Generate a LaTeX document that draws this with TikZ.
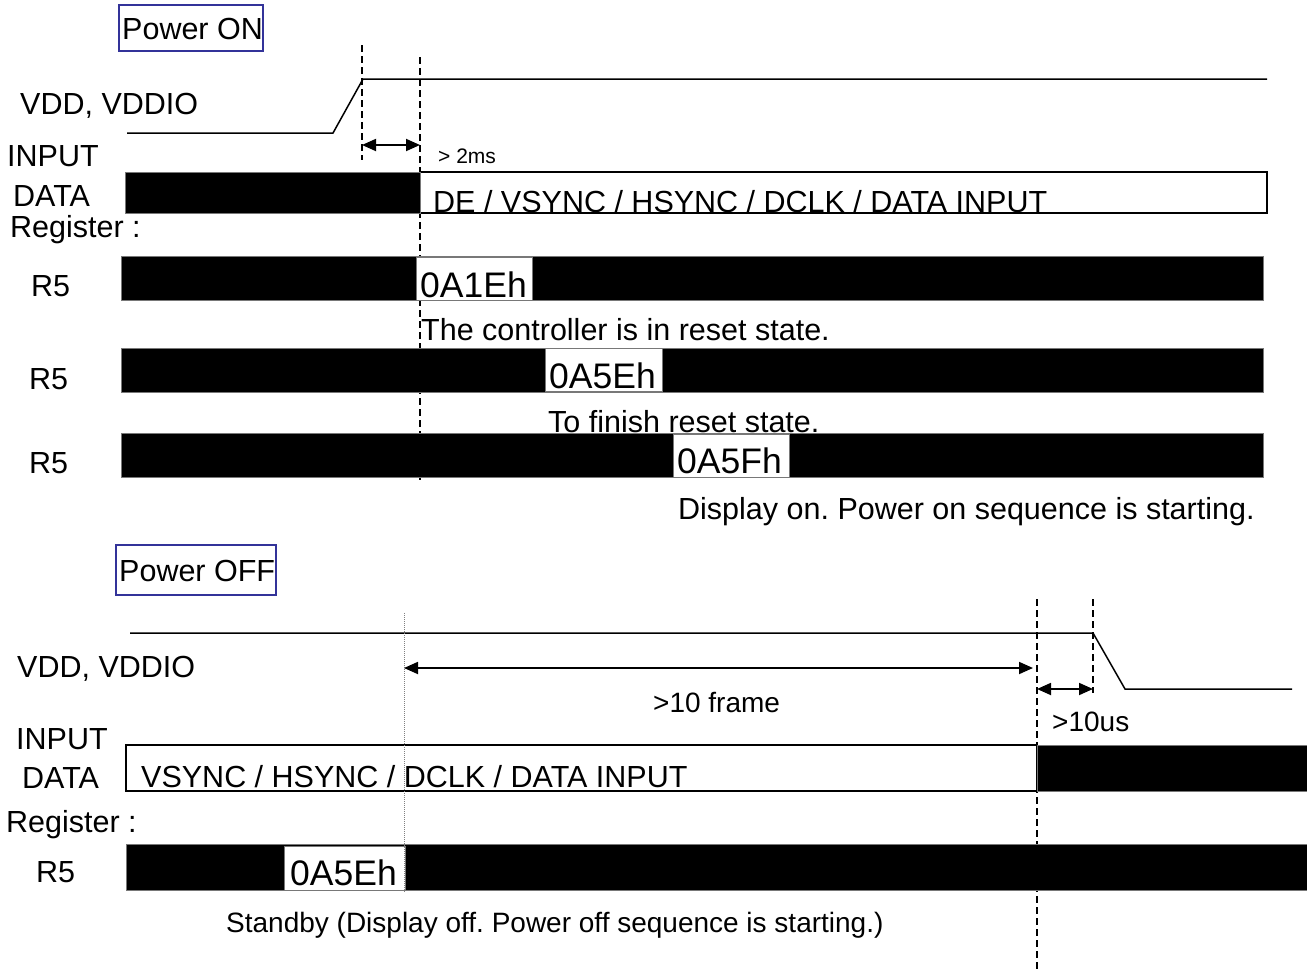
\documentclass[tikz,border=0pt]{standalone}
\usepackage{fontspec}
\setmainfont{Liberation Sans}
\usetikzlibrary{arrows.meta}
\definecolor{boxblue}{RGB}{51,51,153}
\definecolor{edgegray}{RGB}{120,120,120}
\begin{document}
\frenchspacing
\begin{tikzpicture}[x=1pt,y=-1pt,
  lbl/.style={anchor=base west, inner sep=0pt, font=\fontsize{30.5}{36}\selectfont},
  smalllbl/.style={anchor=base west, inner sep=0pt, font=\fontsize{28}{34}\selectfont},
  tinylbl/.style={anchor=base west, inner sep=0pt, font=\fontsize{21}{25}\selectfont},
  hexlbl/.style={anchor=base west, inner sep=0pt, font=\fontsize{35.5}{42}\selectfont},
  sig/.style={line width=1.5pt, black},
  bar/.style={fill=black, draw=edgegray, line width=1pt},
  hexbox/.style={fill=white, draw=edgegray, line width=1pt},
  databox/.style={fill=white, draw=black, line width=1.5pt},
  timedash/.style={dash pattern=on 7pt off 4pt, line width=1.8pt},
  thindot/.style={dash pattern=on 1pt off 1pt, line width=0.8pt, gray},
  dim/.style={{Triangle[length=14pt,width=12pt]}-{Triangle[length=14pt,width=12pt]}, line width=1.8pt},
  titlebox/.style={draw=boxblue, line width=1.5pt}
]
\useasboundingbox (0,0) rectangle (1307,969);

% ================= POWER ON =================
\draw[titlebox] (119,5) rectangle (263,51);
\node[lbl] (pon) at (122,39) {Power ON};

% dashed timing lines
\draw[timedash] (362,45) -- (362,160);
\draw[timedash] (420,57) -- (420,480);

% VDD waveform
\coordinate (vlow0) at (127,133);
\coordinate (vlow1) at (333,133);
\coordinate (vhigh0) at (363,79);
\coordinate (vhigh1) at (1267,79);
\draw[sig] (vlow0) -- (vlow1) -- (vhigh0) -- (vhigh1);

% >2ms
\coordinate (t2a) at (362,145);
\coordinate (t2b) at (420,145);
\draw[dim] (t2a) -- (t2b);
\node[tinylbl] (t2ms) at (438,163) {> 2ms};

% labels
\node[lbl] (vddA) at (20,114) {VDD, VDDIO};
\node[lbl] (inA) at (7,166) {INPUT};
\node[lbl] (dataA) at (13,206) {DATA};
\node[lbl] (regA) at (10,237) {Register :};
\node[lbl] (r5a) at (31,296) {R5};
\node[lbl] (r5b) at (29,389) {R5};
\node[lbl] (r5c) at (29,473) {R5};

% input data
\draw[databox] (420,172) rectangle (1267,213);
\draw[bar] (125,172) rectangle (420,213);
\node[lbl] (deinput) at (433,212) {DE / VSYNC / HSYNC / DCLK / DATA INPUT};

% R5 bars
\draw[bar] (121,256) rectangle (1263,300);
\draw[hexbox] (416,257) rectangle (532,300);
\node[hexlbl] (h1) at (420,297) {0A1Eh};
\node[lbl] (reset) at (421,340) {The controller is in reset state.};

\draw[bar] (121,348) rectangle (1263,392);
\draw[hexbox] (545,348) rectangle (662,391);
\node[hexlbl] (h2) at (549,388) {0A5Eh};
\node[lbl] (finish) at (548,432) {To finish reset state.};

\draw[bar] (121,433) rectangle (1263,477);
\draw[hexbox] (673,434) rectangle (789,477);
\node[hexlbl] (h3) at (677,473) {0A5Fh};
\node[lbl] (dispon) at (678,519) {Display on. Power on sequence is starting.};

% ================= POWER OFF =================
\draw[titlebox] (116,545) rectangle (276,595);
\node[lbl] (poff) at (119,581) {Power OFF};

\draw[timedash] (1037,599) -- (1037,969);
\draw[timedash] (1093,599) -- (1093,693);

\coordinate (wh0) at (130,633);
\coordinate (wh1) at (1093,633);
\coordinate (wl0) at (1125,689);
\coordinate (wl1) at (1292,689);
\draw[sig] (wh0) -- (wh1) -- (wl0) -- (wl1);

% labels
\node[lbl] (vddB) at (17,677) {VDD, VDDIO};
\node[lbl] (inB) at (16,749) {INPUT};
\node[lbl] (dataB) at (22,788) {DATA};
\node[lbl] (regB) at (6,832) {Register :};
\node[lbl] (r5d) at (36,882) {R5};

% input data
\draw[databox] (126,745) rectangle (1037,791);
\draw[bar] (1037,745) rectangle (1307,791);
\node[lbl] (vsinput) at (141,787) {VSYNC / HSYNC / DCLK / DATA INPUT};

% R5 bar
\draw[bar] (126,844) rectangle (1307,890);
\draw[hexbox] (284,846) rectangle (405,890);
\node[hexlbl] (h4) at (290,885) {0A5Eh};
\node[smalllbl] (standby) at (226,932) {Standby (Display off. Power off sequence is starting.)};

% thin dotted marker
\draw[thindot] (404,613) -- (404,892);

% >10 frame
\coordinate (fa) at (404,668);
\coordinate (fb) at (1033,668);
\draw[dim] (fa) -- (fb);
\node[smalllbl] (frame) at (653,712) {>10 frame};

% >10us
\coordinate (ua) at (1037,689);
\coordinate (ub) at (1093,689);
\draw[dim] (ua) -- (ub);
\node[smalllbl] (us) at (1052,731) {>10us};
\end{tikzpicture}
\end{document}
